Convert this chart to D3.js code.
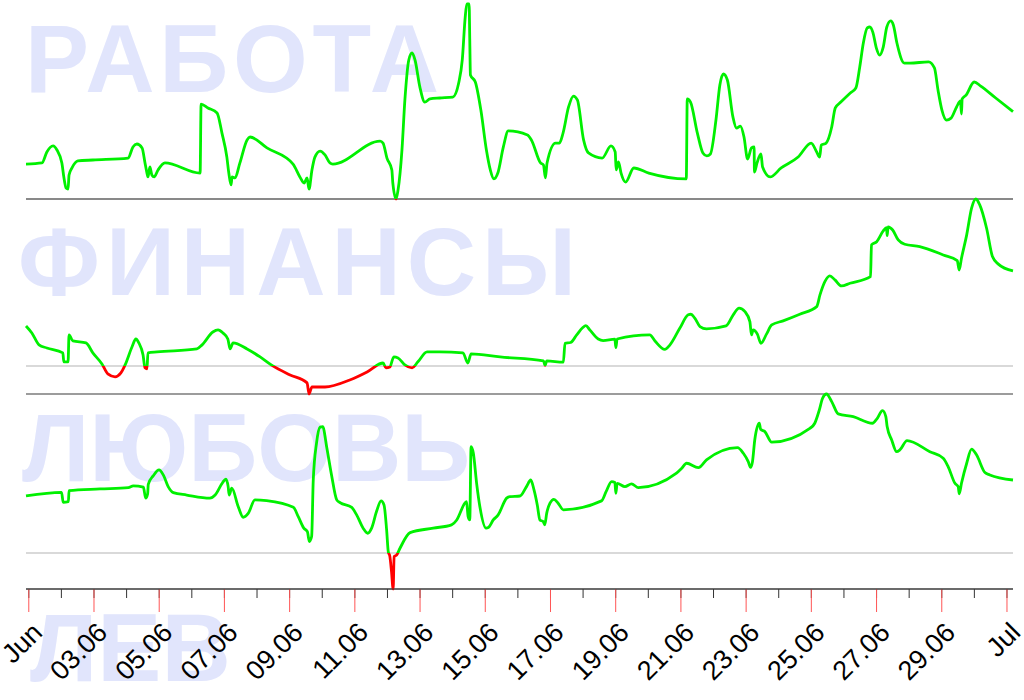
<!DOCTYPE html>
<html><head><meta charset="utf-8">
<script src="https://cdn.jsdelivr.net/npm/d3@7"></script>
<style>html,body{margin:0;padding:0;background:#fff;}svg{display:block;}</style>
</head><body>
<svg id="chart" width="1024" height="700"></svg>
<script>
// ---- data (day offset from 1 June 00:00, value) ----
const titles = ["РАБОТА", "ФИНАНСЫ", "ЛЮБОВЬ"];
const sign = "ЛЕВ";
const startDate = Date.UTC(2023, 5, 1);

const work = [[-0.07,17.9],[0.42,18.5],[0.57,24.1],[0.76,27.2],[0.88,25.1],[1.03,18.5],[1.09,11.3],[1.16,5.6],[1.22,5.1],[1.25,12.3],[1.34,15.9],[1.52,19.5],[1.98,20.0],[3.06,21.0],[3.21,26.7],[3.33,28.2],[3.49,26.2],[3.58,18.5],[3.64,13.3],[3.67,11.3],[3.73,16.4],[3.79,12.3],[3.86,11.3],[3.98,14.9],[4.19,18.5],[5.27,13.3],[5.30,48.7],[5.51,46.7],[5.79,44.1],[5.94,33.8],[6.09,21.5],[6.15,13.3],[6.22,7.2],[6.25,11.3],[6.34,10.8],[6.49,18.5],[6.71,30.3],[6.80,31.8],[7.32,26.2],[8.12,17.9],[8.33,11.3],[8.46,8.2],[8.55,10.8],[8.61,5.1],[8.70,14.9],[8.79,21.5],[8.95,24.6],[9.10,22.6],[9.25,18.5],[9.34,17.9],[10.79,29.7],[10.88,28.7],[11.00,21.0],[11.15,14.9],[11.18,8.2],[11.28,0],[11.34,4.6],[11.46,25.1],[11.55,50.8],[11.67,71.3],[11.77,74.9],[11.86,71.3],[12.01,57.4],[12.16,49.7],[12.32,51.3],[12.62,51.8],[13.02,52.3],[13.20,59.5],[13.31,71.3],[13.40,93.3],[13.45,100],[13.52,100],[13.54,81.5],[13.56,63.6],[13.71,60.0],[13.88,45.6],[14.05,25.1],[14.17,14.9],[14.28,10.3],[14.40,13.3],[14.57,26.7],[14.72,34.9],[15.31,32.8],[15.43,30.3],[15.71,18.5],[15.80,17.4],[15.86,10.8],[15.91,18.5],[16.17,28.7],[16.29,28.7],[16.40,33.8],[16.57,47.2],[16.72,52.8],[16.84,50.8],[17.03,30.3],[17.18,23.6],[17.60,21.0],[17.87,27.2],[18.00,24.1],[18.03,14.9],[18.10,19.0],[18.18,13.3],[18.32,8.7],[18.57,15.9],[19.03,13.3],[20.18,10.3],[20.21,51.3],[20.31,49.7],[20.52,33.8],[20.69,23.6],[20.81,22.1],[20.92,23.1],[21.09,40.5],[21.21,58.5],[21.32,64.1],[21.44,61.0],[21.61,42.1],[21.72,36.4],[21.84,37.4],[21.95,31.8],[22.06,20.5],[22.18,26.2],[22.26,26.7],[22.27,13.8],[22.35,18.5],[22.47,23.1],[22.52,16.4],[22.75,11.3],[23.09,15.9],[23.61,21.5],[24.01,28.7],[24.18,24.1],[24.27,21.5],[24.32,27.7],[24.47,28.7],[24.64,36.9],[24.75,46.7],[24.92,49.7],[25.21,54.4],[25.38,56.9],[25.50,67.7],[25.61,80.0],[25.73,87.7],[25.81,88.2],[25.90,85.6],[26.01,77.4],[26.11,73.8],[26.22,77.9],[26.33,88.2],[26.45,91.3],[26.53,89.2],[26.64,80.0],[26.87,69.7],[27.04,69.7],[27.61,70.3],[27.79,67.2],[27.90,55.9],[28.02,45.6],[28.16,40.5],[28.30,41.5],[28.47,47.2],[28.59,50.3],[28.62,43.6],[28.64,51.3],[28.76,53.3],[29.01,60.0],[29.21,57.9],[29.67,51.8],[30.20,44.8]];

const money = [[-0.07,20.5],[0.11,16.9],[0.33,10.8],[0.57,9.2],[1.06,6.7],[1.09,2.1],[1.22,2.1],[1.25,15.9],[1.37,12.8],[1.77,11.8],[1.98,6.7],[2.26,1.0],[2.44,-4.1],[2.66,-5.6],[2.84,-3.6],[2.97,0.5],[3.18,9.7],[3.30,13.8],[3.39,11.8],[3.52,5.6],[3.58,-1.0],[3.64,-1.5],[3.67,6.7],[3.95,7.2],[5.17,8.7],[5.33,10.8],[5.66,17.4],[5.82,18.5],[5.97,16.9],[6.12,13.8],[6.19,8.7],[6.28,11.8],[6.71,8.7],[7.11,4.6],[7.50,0],[8.03,-4.6],[8.55,-8.7],[8.61,-14.4],[8.70,-10.8],[9.10,-10.8],[9.86,-7.2],[10.39,-3.1],[10.88,1.5],[10.97,-1.0],[11.09,-0.5],[11.21,4.6],[11.34,4.1],[11.55,0.5],[11.77,-1.0],[11.95,2.1],[12.23,7.2],[12.62,7.2],[13.33,6.7],[13.48,1.5],[13.58,6.2],[14.47,4.6],[15.80,2.6],[15.85,0.3],[15.90,2.6],[16.41,1.9],[16.46,11.6],[16.63,12.0],[16.82,15.9],[17.00,19.6],[17.10,20.7],[17.22,18.5],[17.48,13.8],[17.63,13.0],[17.99,13.7],[18.02,9.4],[18.06,13.8],[19.06,15.9],[19.22,12.8],[19.52,8.5],[19.68,10.8],[19.98,19.3],[20.24,26.2],[20.32,26.5],[20.44,24.5],[20.60,20.2],[20.80,19.0],[21.40,20.5],[21.62,26.2],[21.80,29.6],[21.98,27.8],[22.13,22.7],[22.18,15.9],[22.23,18.5],[22.36,16.3],[22.47,11.6],[22.64,16.3],[22.80,21.0],[23.15,23.1],[23.66,26.5],[24.18,30.4],[24.28,36.4],[24.43,43.2],[24.58,46.2],[24.74,44.1],[24.94,41.0],[25.20,42.4],[25.83,45.8],[25.86,62.1],[26.02,63.7],[26.22,69.2],[26.32,70.9],[26.34,66.8],[26.37,71.3],[26.51,69.7],[26.68,64.6],[26.88,62.4],[27.34,61.2],[28.06,56.9],[28.49,54.0],[28.55,49.2],[28.62,55.2],[28.78,67.2],[28.93,80.9],[29.06,85.6],[29.18,82.6],[29.39,70.6],[29.57,56.1],[29.75,52.2],[30.20,48.7]];

const love = [[-0.07,29.2],[1.02,31.1],[1.07,26.0],[1.23,26.3],[1.25,31.9],[2.20,32.8],[3.07,33.5],[3.22,34.4],[3.53,33.7],[3.60,28.1],[3.66,30.3],[3.68,35.2],[3.83,39.5],[4.01,42.6],[4.14,40.0],[4.29,34.0],[4.45,30.9],[4.86,29.7],[5.57,28.1],[5.73,29.7],[5.96,36.1],[6.06,37.8],[6.13,34.0],[6.16,29.7],[6.24,33.2],[6.44,23.7],[6.59,18.3],[6.75,20.4],[6.95,27.2],[7.31,26.8],[8.13,23.4],[8.28,18.6],[8.45,12.7],[8.56,10.9],[8.62,5.8],[8.69,8.4],[8.74,37.4],[8.84,56.3],[8.95,64.5],[9.03,64.8],[9.15,54.5],[9.30,40.0],[9.46,27.2],[9.56,25.8],[9.92,23.4],[10.07,19.5],[10.27,12.7],[10.41,10.1],[10.53,12.7],[10.68,21.2],[10.82,26.7],[10.91,24.6],[10.99,11.8],[11.04,0.7],[11.09,-1.9],[11.14,-9.6],[11.19,-18.5],[11.22,-1.9],[11.30,-1.0],[11.40,2.4],[11.71,10.4],[12.42,12.7],[12.98,14.4],[13.14,16.9],[13.39,25.5],[13.44,26.3],[13.49,18.6],[13.54,16.9],[13.58,54.5],[13.65,51.1],[13.75,35.7],[13.85,23.7],[14.04,12.7],[14.11,13.0],[14.26,16.9],[14.41,19.5],[14.67,28.1],[14.77,28.9],[15.08,29.2],[15.28,34.0],[15.41,37.4],[15.51,32.3],[15.61,24.6],[15.69,16.9],[15.79,16.1],[15.84,14.4],[15.90,20.4],[16.00,25.5],[16.12,27.5],[16.25,25.5],[16.41,22.1],[17.58,26.7],[17.72,31.4],[17.89,36.6],[17.99,36.1],[18.02,30.6],[18.06,35.7],[18.30,34.0],[18.50,35.4],[18.71,33.5],[19.88,40.9],[20.04,43.4],[20.19,46.0],[20.55,43.7],[20.80,47.7],[21.75,54.0],[21.93,51.1],[22.08,46.8],[22.15,43.9],[22.21,46.8],[22.28,57.9],[22.42,66.5],[22.46,63.4],[22.59,62.2],[22.80,56.8],[23.97,63.9],[24.12,66.5],[24.26,73.3],[24.36,79.3],[24.48,81.5],[24.64,77.6],[24.84,71.3],[25.30,69.9],[25.89,66.5],[26.02,68.6],[26.20,73.0],[26.30,69.9],[26.34,64.8],[26.48,57.9],[26.63,51.9],[26.73,52.8],[26.95,57.6],[27.65,51.9],[28.06,48.6],[28.21,44.3],[28.42,35.7],[28.52,34.0],[28.55,30.3],[28.62,35.7],[28.78,46.0],[28.93,53.2],[29.08,50.3],[29.34,41.2],[29.49,40.0],[30.20,37.4]];

const seriesList = [work, money, love];
const threshold = 0;

// ---- layout ----
const svg = d3.select("#chart");
const left = 26, right = 1013;
const panelTop = 4, panelH = 195;
const toDate = d => new Date(startDate + d * 864e5);

const allDays = seriesList.flatMap(s => s.map(p => p[0]));
const x = d3.scaleUtc().domain(d3.extent(allDays).map(toDate)).range([left, right]);

const defs = svg.append("defs");

// watermark titles
const wmY = [92, 295, 481, 681];
const wmX = [25, 18, 22, 30];
const wmLen = [414, 558, null, null];
const wm = svg.append("g").attr("font-family", "'Liberation Sans', Arial, sans-serif")
  .attr("font-weight", "bold").attr("font-size", 96).attr("fill", "#e1e5fc");
titles.concat([sign]).forEach((t, i) => {
  const tx = wm.append("text").attr("x", wmX[i]).attr("y", wmY[i]).text(t);
  if (wmLen[i]) tx.attr("textLength", wmLen[i]).attr("lengthAdjust", "spacing");
});

seriesList.forEach((data, i) => {
  const top = panelTop + i * panelH, bottom = top + panelH;
  const y = d3.scaleLinear().domain(d3.extent(data, d => d[1])).range([bottom, top]);
  const y0 = y(threshold);
  const g = svg.append("g");

  g.append("line").attr("x1", left).attr("x2", right).attr("y1", y0).attr("y2", y0)
    .attr("stroke", "#d9d9d9").attr("stroke-width", 2);
  g.append("line").attr("x1", left).attr("x2", right).attr("y1", bottom).attr("y2", bottom)
    .attr("stroke", "#3a3a3a").attr("stroke-width", 1.2);

  defs.append("clipPath").attr("id", "up" + i).append("rect")
    .attr("x", 0).attr("y", top - 10).attr("width", 1024).attr("height", y0 - top + 10);
  defs.append("clipPath").attr("id", "dn" + i).append("rect")
    .attr("x", 0).attr("y", y0).attr("width", 1024).attr("height", bottom - y0 + 10);

  const line = d3.line().x(d => x(toDate(d[0]))).y(d => y(d[1])).curve(d3.curveMonotoneX);
  g.append("path").datum(data).attr("d", line).attr("fill", "none")
    .attr("stroke", "#00f000").attr("stroke-width", 2.8).attr("stroke-linejoin", "round")
    .attr("clip-path", `url(#up${i})`);
  g.append("path").datum(data).attr("d", line).attr("fill", "none")
    .attr("stroke", "#ff0000").attr("stroke-width", 2.8).attr("stroke-linejoin", "round")
    .attr("clip-path", `url(#dn${i})`);
});

// ---- x axis ----
const axisY = panelTop + 3 * panelH;
const fmt = d => d.getUTCDate() === 1 ? d3.utcFormat("%b")(d) : d3.utcFormat("%d.%m")(d);

const minorAxis = svg.append("g").attr("transform", `translate(0,${axisY})`)
  .call(d3.axisBottom(x).ticks(d3.utcDay.every(1)).tickSize(9).tickSizeOuter(0).tickFormat(""));
minorAxis.select(".domain").remove();
minorAxis.selectAll(".tick line").attr("stroke", "#333");

const majorAxis = svg.append("g").attr("transform", `translate(0,${axisY})`)
  .call(d3.axisBottom(x).ticks(d3.utcDay.every(2)).tickSize(23).tickSizeOuter(0).tickFormat(fmt));
majorAxis.select(".domain").remove();
majorAxis.selectAll(".tick line").attr("stroke", "#ff5555");
majorAxis.selectAll(".tick text")
  .attr("x", null).attr("y", null).attr("dy", null)
  .attr("text-anchor", "end")
  .attr("transform", "translate(15,45) rotate(-45)")
  .attr("font-family", "'Liberation Sans', Arial, sans-serif")
  .attr("font-size", 27).attr("fill", "#000");

svg.append("line").attr("x1", left).attr("x2", right).attr("y1", axisY).attr("y2", axisY)
  .attr("stroke", "#3a3a3a").attr("stroke-width", 1.2);
</script>
</body></html>
